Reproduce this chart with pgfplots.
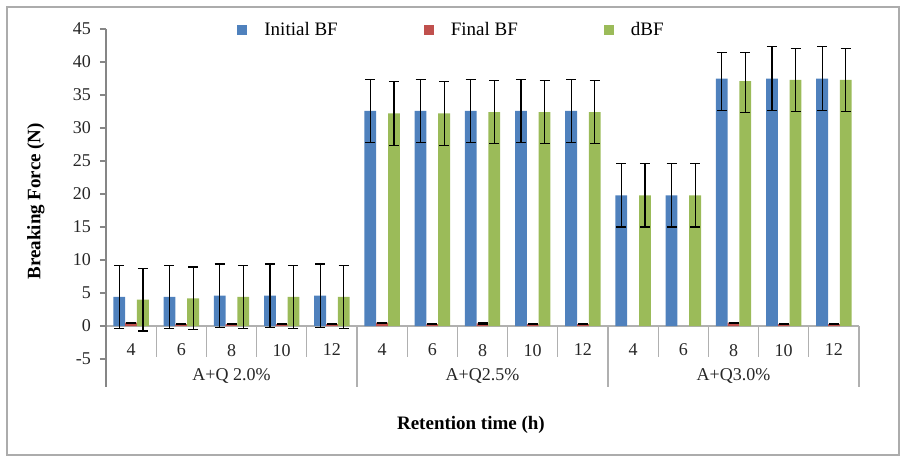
\documentclass[border=0pt]{standalone}
\usepackage{pgfplots}
\pgfplotsset{compat=1.18}
\usepackage{pgfplotstable}
\usepackage{fontspec}
\setmainfont{Liberation Serif}
\definecolor{cblue}{HTML}{4F81BD}
\definecolor{cred}{HTML}{C0504D}
\definecolor{cgreen}{HTML}{9BBB59}
\definecolor{axgray}{HTML}{868686}
\definecolor{sepgray}{HTML}{B0B0B0}
\pgfplotsset{
  sqlegend/.style={legend image code/.code={\fill[##1] (0pt,-2.5pt) rectangle (5pt,2.5pt);}},
}
\pgfplotstableread{
x ib ibp ibm fb fbe db dbp dbm
0 4.4 4.75 4.75 0.5 0.05 4.0 4.75 4.75
1 4.4 4.75 4.75 0.3 0.05 4.2 4.75 4.75
2 4.6 4.8 4.8 0.3 0.08 4.4 4.8 4.8
3 4.6 4.8 4.8 0.3 0.08 4.4 4.8 4.8
4 4.6 4.8 4.8 0.3 0.08 4.4 4.8 4.8
5 32.6 4.8 4.8 0.5 0.05 32.2 4.8 4.8
6 32.6 4.8 4.8 0.3 0.08 32.2 4.8 4.8
7 32.6 4.8 4.8 0.4 0.1 32.4 4.8 4.8
8 32.6 4.8 4.8 0.3 0.05 32.4 4.8 4.8
9 32.6 4.8 4.8 0.3 0.08 32.4 4.8 4.8
10 19.8 4.8 4.8 nan 0 19.8 4.8 4.8
11 19.8 4.8 4.8 nan 0 19.8 4.8 4.8
12 37.5 3.9 4.8 0.5 0.05 37.1 4.3 4.7
13 37.5 4.8 4.8 0.3 0.08 37.3 4.8 4.8
14 37.5 4.8 4.8 0.3 0.08 37.3 4.8 4.8
}\data
\begin{document}
\begin{tikzpicture}
\path[use as bounding box] (-53pt,-48.5pt) rectangle (397pt,179.5pt);
\draw[gray!65, line width=0.6pt] (-49.5pt,-48pt) rectangle (396.5pt,176pt);
\begin{axis}[
  at={(0pt,0pt)}, anchor=south west,
  scale only axis, width=376.5pt, height=165pt,
  ybar=0pt, bar width=5.9pt,
  xmin=-0.5, xmax=14.5, ymin=-5, ymax=45,
  ytick={-5,0,...,45},
  xtick={0,...,14},
  xticklabels={4,6,8,10,12,4,6,8,10,12,4,6,8,10,12},
  axis y line*=left, axis x line*=middle,
  hide obscured x ticks=false, hide obscured y ticks=false,
  axis line style={axgray, line width=0.6pt, -},
  x axis line style={sepgray},
  xtick style={draw=none},
  ytick style={axgray, line width=0.6pt},
  tick align=outside, major tick length=3pt,
  /pgf/number format/assume math mode=true,
  tick label style={font=\fontsize{9}{10}\selectfont, text=black!85},
  xticklabel style={yshift=-2.5pt},
  yticklabel style={xshift=-1pt},
  clip=false,
  error bars/y dir=both,
  error bars/y explicit,
  error bars/error bar style={draw=black, line width=0.6pt},
  error bars/error mark options={draw=black, rotate=90, mark size=2.5pt, line width=0.6pt},
  legend columns=3,
  legend style={draw=none, fill=none, at={(axis cs:2.11,44.8)}, anchor=west,
    font=\fontsize{9.5}{11}\selectfont, inner sep=0pt,
    /tikz/every even column/.append style={column sep=41pt},
    /tikz/every odd column/.append style={column sep=6.5pt}},
]
\addplot[fill=cblue, draw=none, sqlegend]
  table[x=x, y=ib, y error plus=ibp, y error minus=ibm] {\data};
\addlegendentry{Initial BF}
\addplot[fill=cred, draw=none, sqlegend]
  table[x=x, y=fb, y error=fbe] {\data};
\addlegendentry{Final BF}
\addplot[fill=cgreen, draw=none, sqlegend]
  table[x=x, y=db, y error plus=dbp, y error minus=dbm] {\data};
\addlegendentry{dBF}
% category separators
\pgfplotsinvokeforeach{0.5,1.5,2.5,3.5,5.5,6.5,7.5,8.5,10.5,11.5,12.5,13.5}{
  \draw[sepgray, line width=0.6pt] (axis cs:#1,0) -- (axis cs:#1,-4.7);
}
\pgfplotsinvokeforeach{4.5,9.5,14.5}{
  \draw[sepgray, line width=0.6pt] (axis cs:#1,0) -- (axis cs:#1,-9.24);
}
\draw[axgray, line width=0.6pt] (axis cs:-0.5,0) -- (axis cs:-0.5,-9.24);
\node[font=\fontsize{9}{10}\selectfont, text=black!85] at (axis cs:2,-7.6) {A+Q 2.0\%};
\node[font=\fontsize{9}{10}\selectfont, text=black!85] at (axis cs:7,-7.6) {A+Q2.5\%};
\node[font=\fontsize{9}{10}\selectfont, text=black!85] at (axis cs:12,-7.6) {A+Q3.0\%};
\node[font=\fontsize{9.5}{11}\selectfont\bfseries] at (axis cs:6.77,-15) {Retention time (h)};
\node[font=\fontsize{9.5}{11}\selectfont\bfseries, rotate=90] at ([xshift=-35pt]axis cs:-0.5,18.9) {Breaking Force (N)};
\end{axis}
\end{tikzpicture}
\end{document}
